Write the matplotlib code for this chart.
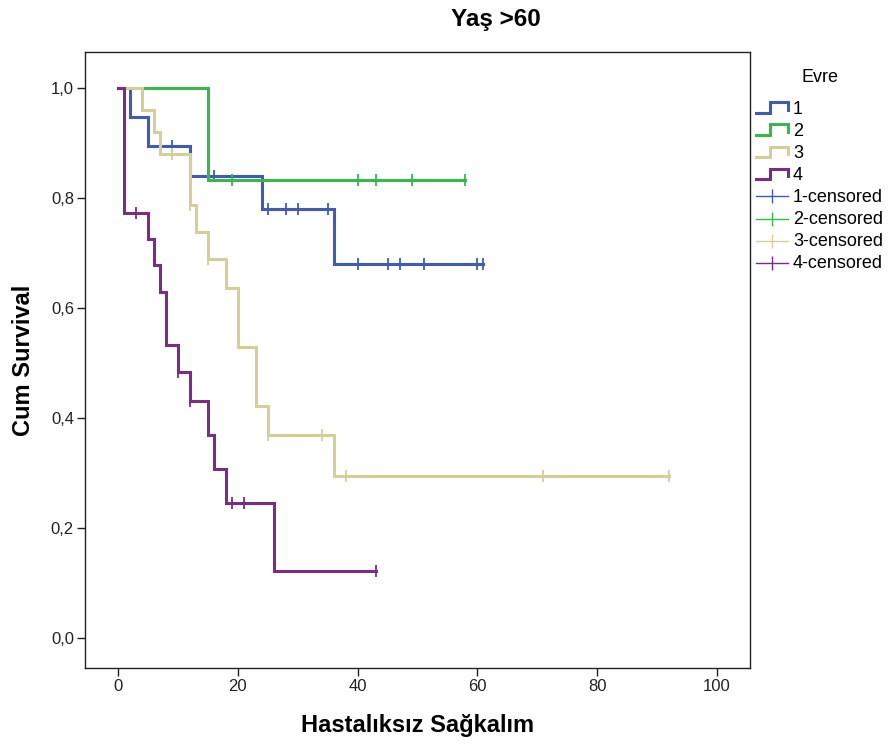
import numpy as np
import matplotlib
matplotlib.use("Agg")
import matplotlib.pyplot as plt
from matplotlib.lines import Line2D
from matplotlib.legend_handler import HandlerBase

plt.rcParams['font.family'] = ['Liberation Sans', 'DejaVu Sans']

# step curves (time, survival) for each stage (Evre)
t1 = [0, 2, 5, 12, 24, 36, 61]
s1 = [1.0, 0.947, 0.895, 0.839, 0.78, 0.68, 0.68]
c1_t = [9, 16, 25, 28, 30, 35, 40, 45, 47, 51, 60, 61]
c1_s = [0.895, 0.839, 0.78, 0.78, 0.78, 0.78, 0.68, 0.68, 0.68, 0.68, 0.68, 0.68]

t2 = [0, 15, 58]
s2 = [1.0, 0.833, 0.833]
c2_t = [19, 40, 43, 49, 58]
c2_s = [0.833, 0.833, 0.833, 0.833, 0.833]

t3 = [0, 4, 6, 7, 12, 13, 15, 18, 20, 23, 25, 36, 92]
s3 = [1.0, 0.96, 0.92, 0.88, 0.787, 0.738, 0.689, 0.636, 0.529, 0.422, 0.369, 0.295, 0.295]
c3_t = [9, 12, 15, 25, 34, 38, 71, 92]
c3_s = [0.88, 0.787, 0.689, 0.369, 0.369, 0.295, 0.295, 0.295]

t4 = [0, 1, 5, 6, 7, 8, 10, 12, 15, 16, 18, 26, 43]
s4 = [1.0, 0.773, 0.725, 0.678, 0.629, 0.533, 0.484, 0.431, 0.369, 0.307, 0.245, 0.122, 0.122]
c4_t = [3, 10, 12, 19, 21, 43]
c4_s = [0.773, 0.484, 0.431, 0.245, 0.245, 0.122]

groups = ['1', '2', '3', '4']
colors = ['#3F5BB5', '#35B94A', '#D4CF97', '#7B2C83']
curves = [(t1, s1, c1_t, c1_s), (t2, s2, c2_t, c2_s), (t3, s3, c3_t, c3_s), (t4, s4, c4_t, c4_s)]

yticks = [0.0, 0.2, 0.4, 0.6, 0.8, 1.0]
xticks = [0, 20, 40, 60, 80, 100]


class StepHandler(HandlerBase):
    # little step glyph like the SPSS legend
    def create_artists(self, legend, orig_handle, xdescent, ydescent, width, height, fontsize, trans):
        x0 = -xdescent
        lo = -ydescent + 0.0 * height
        hi = -ydescent + 1.0 * height
        xs = [x0, x0 + 0.45 * width, x0 + 0.45 * width, x0 + width, x0 + width]
        ys = [lo, lo, hi, hi, lo + 0.3 * height]
        ln = Line2D(xs, ys, color=orig_handle.get_color(), lw=2.2, transform=trans,
                    solid_joinstyle='miter')
        return [ln]


fig = plt.figure(figsize=(8.91, 7.49), dpi=100)
ax = fig.add_axes([0.0954, 0.1081, 0.7464, 0.8224])

step_handles = []
cens_handles = []
for g, col, (t, s, ct, cs) in zip(groups, colors, curves):
    h, = ax.step(t, s, where='post', color=col, lw=2.2, solid_joinstyle='miter')
    ax.plot(ct, cs, ls='none', marker='|', ms=8, mew=1.3, color=col)
    step_handles.append(h)
    cens_handles.append(Line2D([], [], color=col, lw=1.0, marker='|', ms=10, mew=1.0))

ax.set_xlim(-5.5, 105.5)
ax.set_ylim(-0.055, 1.065)
ax.set_xticks(xticks)
ax.set_xticklabels([str(x) for x in xticks])
ax.set_yticks(yticks)
ax.set_yticklabels([('%.1f' % y).replace('.', ',') for y in yticks])
ax.tick_params(direction='out', length=6, width=1, pad=2, colors='#222222', labelsize=12)
for sp in ax.spines.values():
    sp.set_color('#222222')
    sp.set_linewidth(1)

ax.set_xlabel('Hastalıksız Sağkalım', fontsize=17, fontweight='bold', labelpad=14)
ax.set_ylabel('Cum Survival', fontsize=17, fontweight='bold', labelpad=11)
fig.text(0.556, 0.974, 'Yaş >60', fontsize=17.5, fontweight='bold', ha='center', va='center')

# legend title placed on its own, a bit above the entries
fig.text(820 / 891, 1 - 78 / 749, 'Evre', fontsize=13, ha='center', va='center')
handles = step_handles + cens_handles
labels = groups + [g + '-censored' for g in groups]
hmap = {h: StepHandler() for h in step_handles}
leg = fig.legend(handles, labels, handler_map=hmap, loc='upper left',
                 bbox_to_anchor=(756 / 891, 1 - 101 / 749), frameon=False, fontsize=13,
                 handlelength=1.75, handleheight=0.5, handletextpad=0.3,
                 labelspacing=0.28, borderaxespad=0, borderpad=0)

fig.savefig('out.png', dpi=100)
